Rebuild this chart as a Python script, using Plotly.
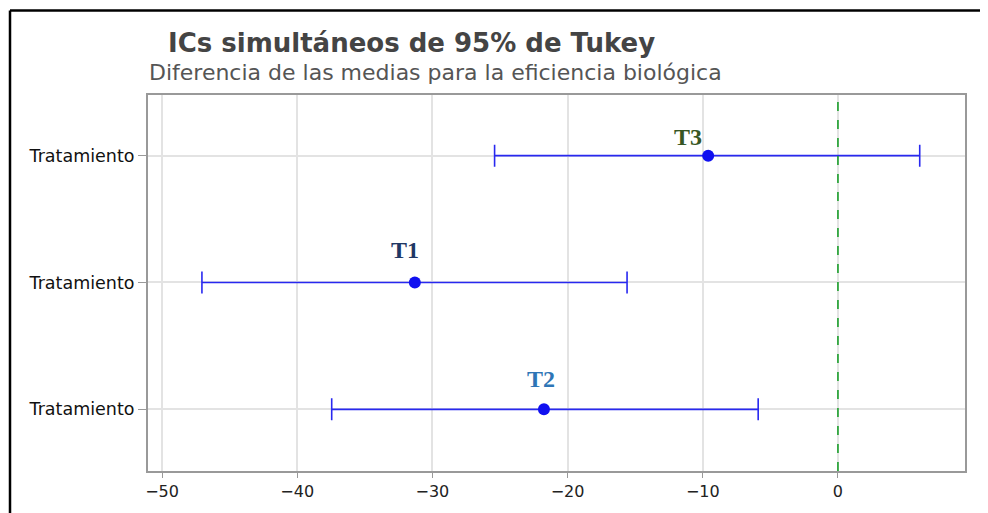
import plotly.graph_objects as go

# Data
labels = ["T2", "T1", "T3"]
positions = [0, 1, 2]
centers = [-21.75, -31.3, -9.6]
lowers = [-37.45, -47.05, -25.4]
uppers = [-5.9, -15.6, 6.05]
tick_text = ["Tratamiento", "Tratamiento", "Tratamiento"]
label_colors = ["#2E75B6", "#1F3864", "#375623"]
label_dx = [-0.2, -0.7, -1.5]
label_shift = [30, 32, 19]

err_plus = [u - c for u, c in zip(uppers, centers)]
err_minus = [c - l for c, l in zip(centers, lowers)]

fig = go.Figure()
fig.add_trace(go.Scatter(
    x=centers, y=positions, mode="markers",
    marker=dict(color="#1010F0", size=12, symbol="circle"),
    error_x=dict(type="data", symmetric=False, array=err_plus, arrayminus=err_minus,
                 color="#2828F0", thickness=1.6, width=11),
    showlegend=False,
))

# page body has an 8px margin, so the figure is offset by 8px
OFF = 8
W, H = 988 - OFF, 513 - OFF
L, R, T, B = 148 - OFF, 23, 95 - OFF, 40
pw, ph = W - L - R, H - T - B

def px_to_paper_x(px):
    return (px - OFF - L) / pw

def px_to_paper_y(py):
    return (H - B - (py - OFF)) / ph

shapes = [
    dict(type="line", xref="x", yref="paper", x0=0, x1=0, y0=0, y1=1,
         line=dict(color="#1A9E2A", width=1.6, dash="dash")),
    # outer black frame (left and top)
    dict(type="line", xref="paper", yref="paper",
         x0=px_to_paper_x(10), x1=px_to_paper_x(10),
         y0=px_to_paper_y(10), y1=px_to_paper_y(520),
         line=dict(color="black", width=2.5)),
    dict(type="line", xref="paper", yref="paper",
         x0=px_to_paper_x(10), x1=px_to_paper_x(995),
         y0=px_to_paper_y(10), y1=px_to_paper_y(10),
         line=dict(color="black", width=2.5)),
]

annotations = [
    dict(text="<b>ICs simultáneos de 95% de Tukey</b>", xref="paper", yref="paper",
         x=px_to_paper_x(166), y=px_to_paper_y(43), xanchor="left", yanchor="middle",
         showarrow=False, font=dict(family="DejaVu Sans", size=26, color="#444444")),
    dict(text="Diferencia de las medias para la eficiencia biológica", xref="paper", yref="paper",
         x=px_to_paper_x(147), y=px_to_paper_y(72), xanchor="left", yanchor="middle",
         showarrow=False, font=dict(family="DejaVu Sans", size=22, color="#555555")),
]
for lab, c, p, col, dx, sh in zip(labels, centers, positions, label_colors, label_dx, label_shift):
    annotations.append(dict(
        text="<b>" + lab + "</b>", x=c + dx, y=p, xref="x", yref="y", showarrow=False,
        yshift=sh, font=dict(family="Liberation Serif", size=24, color=col)))

fig.update_layout(
    width=W, height=H,
    margin=dict(l=L, r=R, t=T, b=B),
    paper_bgcolor="white", plot_bgcolor="white",
    shapes=shapes, annotations=annotations,
    xaxis=dict(range=[-51.04, 9.4], tickvals=[-50, -40, -30, -20, -10, 0],
               showgrid=True, gridcolor="#E3E3E3", gridwidth=1.5,
               zeroline=False, showline=True, linecolor="#999999", linewidth=2, mirror=True,
               ticks="outside", ticklen=5, tickcolor="#999999",
               tickfont=dict(family="DejaVu Sans", size=16, color="#222222")),
    yaxis=dict(range=[-0.486, 2.478], tickvals=positions, ticktext=tick_text,
               showgrid=True, gridcolor="#E3E3E3", gridwidth=1.5,
               zeroline=False, showline=True, linecolor="#999999", linewidth=2, mirror=True,
               ticks="outside", ticklen=8, tickcolor="#999999",
               tickfont=dict(family="DejaVu Sans", size=17.5, color="#111111")),
)

fig.write_html("out.html")
